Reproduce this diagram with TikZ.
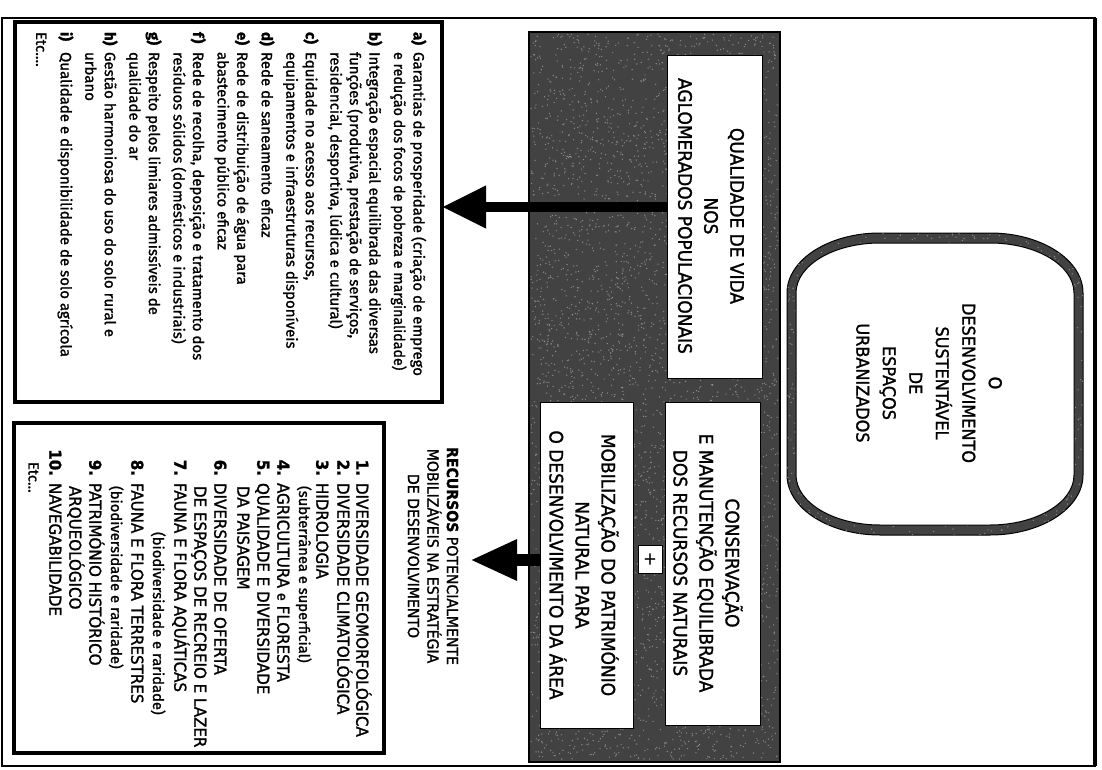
\documentclass[tikz,border=0pt]{standalone}
\usepackage{fontspec}
\setmainfont{Fira Sans}[FakeBold=1.2]
\newfontfamily\cf{DejaVu Sans}[FakeStretch=0.92,FakeBold=1.4]
\newfontfamily\lf{Fira Sans}[FakeBold=1.2]
\usetikzlibrary{arrows.meta,calc}
\tikzset{
  every node/.style={inner sep=0pt, outer sep=0pt},
  txt/.style={rotate=-90, anchor=base west},
  lone/.style={txt, font=\lf\fontsize{15}{18}\selectfont},
  ltwo/.style={txt, font=\cf\fontsize{16.4}{19}\selectfont},
  ltwos/.style={txt, font=\lf\fontsize{14.8}{17}\selectfont},
  darkbox/.style={rectangle, fill=black!74, draw=black, line width=1.2pt},
  wbox/.style={rectangle, fill=white, draw=black, line width=0.8pt},
  listbox/.style={rectangle, fill=white, draw=black, line width=3.5pt},
  capt/.style={rotate=-90, align=center, font=\cf\fontsize{18.5}{26}\selectfont},
  speck/.style={fill=white!55!black},
  bigarrow/.style={line width=10pt, -{Triangle[length=44pt,width=40pt]}},
  midarrow/.style={line width=12pt, -{Triangle[length=47pt,width=38pt]}}
}
\newcommand\labA[1]{\makebox[20pt][l]{\bfseries #1}}
\newcommand\labN[1]{\makebox[24pt][r]{\bfseries #1}\hspace{7pt}}
\begin{document}
\begin{tikzpicture}[x=1pt,y=-1pt]
\useasboundingbox (0,0) rectangle (1102,770);
\pgfmathsetseed{4242}
% outer frame
\draw[line width=2pt] (2,18) rectangle (1095,766);
\draw[line width=4pt] (1095,18) -- (1095,766);

% list boxes
\node[listbox, minimum width=427pt, minimum height=380pt] (list1) at (228.5,212) {};
\node[listbox, minimum width=370pt, minimum height=330pt] (list2) at (199,588) {};

% central board
\node[darkbox, minimum width=251pt, minimum height=730pt] (board) at (654.5,397) {};
\foreach \i in {1,...,4500} {
  \fill[speck] ({531+247*rnd},{34+726*rnd}) circle (0.7);
}
\node[wbox, minimum width=95pt, minimum height=323pt] (qual) at (714.5,216.5) {};
\node[wbox, minimum width=95pt, minimum height=323pt] (cons) at (712.5,563.5) {};
\node[wbox, minimum width=93pt, minimum height=326pt] (mob) at (586.5,565) {};
\node[wbox, minimum width=24pt, minimum height=28pt, font=\cf\fontsize{17}{17}\selectfont] (plus) at (650,559) {+};

\node[capt] (qualt) at (711,216) {QUALIDADE DE VIDA\\NOS\\AGLOMERADOS POPULACIONAIS};
\node[capt] (const) at (708,563) {CONSERVAÇÃO\\E MANUTENÇÃO EQUILIBRADA\\DOS RECURSOS NATURAIS};
\node[capt] (mobt) at (584,565) {MOBILIZAÇÃO DO PATRIMÓNIO\\NATURAL PARA\\O DESENVOLVIMENTO DA ÁREA};

% goal shape
\begin{scope}
\path[fill=black!74, draw=black, line width=1pt, save path=\goalpath]
  (880,233) -- (990,233) .. controls (1041.4,233) and (1083,259.9) .. (1083,293)
  -- (1083,475) .. controls (1083,508.1) and (1041.4,535) .. (990,535)
  -- (880,535) .. controls (828.6,535) and (787,508.1) .. (787,475)
  -- (787,293) .. controls (787,259.9) and (828.6,233) .. (880,233) -- cycle;
\clip[use path=\goalpath];
\foreach \i in {1,...,1500} {
  \fill[speck] ({787+296*rnd},{233+302*rnd}) circle (0.7);
}
\end{scope}
\fill[white, draw=black, line width=1pt]
  (880,243) -- (990,243) .. controls (1036.4,243) and (1074,265.4) .. (1074,293)
  -- (1074,475) .. controls (1074,502.6) and (1036.4,525) .. (990,525)
  -- (880,525) .. controls (833.6,525) and (796,502.6) .. (796,475)
  -- (796,293) .. controls (796,265.4) and (833.6,243) .. (880,243) -- cycle;
\node[capt, font=\cf\fontsize{17.5}{26.5}\selectfont] (goal) at (929,383)
  {O\\DESENVOLVIMENTO\\SUSTENTÁVEL\\DE\\ESPAÇOS\\URBANIZADOS};

% recursos caption
\node[capt, font=\cf\fontsize{15.3}{19.5}\selectfont] (rec) at (433,556)
  {\textbf{RECURSOS} POTENCIALMENTE\\MOBILIZÁVEIS NA ESTRATÉGIA\\DE DESENVOLVIMENTO};

% arrows
\coordinate (aA) at (600,207);
\coordinate (tipB) at (470,560);
\draw[bigarrow] (qual.west |- aA) -- (list1.east |- aA);
\draw[midarrow] (mob.west |- tipB) -- (tipB);

% list 1
\node[lone] (a1) at (413.5,32) {\labA{a)}Garantias de prosperidade (criação de emprego};
\node[lone] (a2) at (394,52) {\scalebox{0.95}[1]{e redução dos focos de pobreza e marginalidade)}};
\node[lone] (b1) at (369.4,32) {\labA{b)}Integração espacial equilibrada das diversas};
\node[lone] (b2) at (349.9,52) {funções (produtiva, prestação de serviços,};
\node[lone] (b3) at (330.4,52) {residencial, desportiva, lúdica e cultural)};
\node[lone] (c1) at (305.8,32) {\labA{c)}Equidade no acesso aos recursos,};
\node[lone] (c2) at (286.3,52) {equipamentos e infraestruturas disponíveis};
\node[lone] (d1) at (261.7,32) {\labA{d)}Rede de saneamento eficaz};
\node[lone] (e1) at (237.1,32) {\labA{e)}Rede de distribuição de água para};
\node[lone] (e2) at (217.6,52) {abastecimento público eficaz};
\node[lone] (f1) at (193,32) {\labA{f)}Rede de recolha, deposição e tratamento dos};
\node[lone] (f2) at (173.5,52) {resíduos sólidos (domésticos e industriais)};
\node[lone] (g1) at (148.9,32) {\labA{g)}Respeito pelos limiares admissíveis de};
\node[lone] (g2) at (129.4,52) {qualidade do ar};
\node[lone] (h1) at (104.8,32) {\labA{h)}Gestão harmoniosa do uso do solo rural e};
\node[lone] (h2) at (85.3,52) {urbano};
\node[lone] (i1) at (60.7,32) {\labA{i)}Qualidade e disponibilidade de solo agrícola};
\node[lone] (etc1) at (36.1,32) {Etc....};

% list 2
\node[ltwo] (n1) at (356.3,452) {\labN{1.}DIVERSIDADE GEOMORFOLÓGICA};
\node[ltwo] (n2) at (337.3,452) {\labN{2.}DIVERSIDADE CLIMATOLÓGICA};
\node[ltwo] (n3) at (316.3,452) {\labN{3.}HIDROLOGIA};
\node[ltwos] (n3b) at (299,486) {(subterrânea e superficial)};
\node[ltwo] (n4) at (277.3,452) {\labN{4.}AGRICULTURA {\lf\fontsize{14.8}{17}\selectfont e} FLORESTA};
\node[ltwo] (n5) at (257.3,452) {\labN{5.}QUALIDADE E DIVERSIDADE};
\node[ltwo] (n5b) at (237.3,486) {DA PAISAGEM};
\node[ltwo] (n6) at (214.3,452) {\labN{6.}DIVERSIDADE DE OFERTA};
\node[ltwo] (n6b) at (194.3,486) {DE ESPAÇOS DE RECREIO E LAZER};
\node[ltwo] (n7) at (174.3,452) {\labN{7.}FAUNA E FLORA AQUÁTICAS};
\node[ltwos] (n7b) at (153,532) {(biodiversidade e raridade)};
\node[ltwo] (n8) at (131.3,452) {\labN{8.}FAUNA E FLORA TERRESTRES};
\node[ltwos] (n8b) at (111,486) {(biodiversidade e raridade)};
\node[ltwo] (n9) at (89.3,452) {\labN{9.}PATRIMÓNIO HISTÓRICO};
\node[ltwo] (n9b) at (69.3,486) {ARQUEOLÓGICO};
\node[ltwo] (n10) at (49.3,452) {\labN{10.}NAVEGABILIDADE};
\node[ltwos] (etc2) at (28.5,462) {Etc...};
\end{tikzpicture}
\end{document}
